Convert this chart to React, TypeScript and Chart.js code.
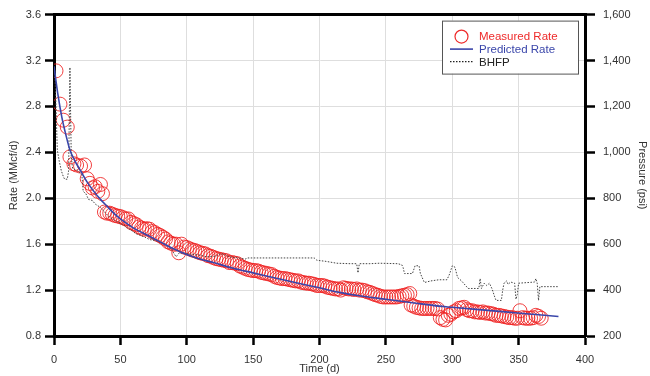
import React, { useEffect, useRef } from "react";
import { Chart, registerables } from "chart.js";

Chart.register(...registerables);

const FONT = "'Liberation Sans', Arial, Helvetica, sans-serif";

// Measured rate (MMcf/d) vs time (d)
const measuredDays = [
  1.5, 4.5, 7, 10, 12, 15, 17, 20, 23, 25, 27, 29, 31, 33, 35, 36.5, 38, 40, 42, 44, 46, 48, 50, 52, 54, 56, 58, 60,
  62, 64, 66, 68, 70, 72, 74, 76, 78, 80, 82, 84, 86, 88, 90, 92, 94, 96, 98, 100, 102, 104, 106, 108, 110, 112,
  114, 116, 118, 120, 122, 124, 126, 128, 130, 132, 134, 136, 138, 140, 142, 144, 146, 148, 150, 152, 154, 156,
  158, 160, 162, 164, 166, 168, 170, 172, 174, 176, 178, 180, 182, 184, 186, 188, 190, 192, 194, 196, 198, 200,
  202, 204, 206, 208, 210, 212, 214, 216, 218, 220, 222, 224, 226, 228, 230, 232, 234, 236, 238, 240, 242, 244,
  246, 248, 250, 252, 254, 256, 258, 260, 262, 264, 266, 268, 269, 271, 273, 275, 277, 279, 281, 283, 285, 287,
  289, 291, 293, 295, 297, 299, 301, 303, 305, 307, 309, 311, 313, 315, 317, 319, 321, 323, 325, 327, 329, 331,
  333, 335, 337, 339, 341, 343, 345, 347, 349, 351, 353, 355, 357, 359, 361, 363, 365, 367,
];
const measuredRate = [
  3.11, 2.82, 2.68, 2.62, 2.36, 2.3, 2.29, 2.28, 2.29, 2.17, 2.13, 2.09, 2.1, 2.06, 2.12, 2.04, 1.88, 1.87, 1.87,
  1.86, 1.85, 1.845, 1.84, 1.83, 1.82, 1.82, 1.79, 1.78, 1.77, 1.75, 1.74, 1.73, 1.735, 1.73, 1.71, 1.7, 1.685,
  1.675, 1.66, 1.645, 1.62, 1.61, 1.6, 1.6, 1.525, 1.6, 1.575, 1.57, 1.56, 1.55, 1.545, 1.535, 1.525, 1.52, 1.515,
  1.5, 1.495, 1.485, 1.475, 1.47, 1.465, 1.46, 1.455, 1.44, 1.44, 1.435, 1.43, 1.41, 1.4, 1.39, 1.38, 1.375, 1.37,
  1.37, 1.365, 1.355, 1.35, 1.345, 1.34, 1.335, 1.32, 1.31, 1.305, 1.3, 1.3, 1.295, 1.29, 1.285, 1.28, 1.28, 1.27,
  1.265, 1.26, 1.26, 1.255, 1.25, 1.24, 1.24, 1.24, 1.235, 1.225, 1.22, 1.215, 1.21, 1.21, 1.2, 1.22, 1.215, 1.21,
  1.21, 1.205, 1.21, 1.2, 1.2, 1.195, 1.185, 1.18, 1.17, 1.16, 1.155, 1.145, 1.14, 1.14, 1.14, 1.14, 1.14, 1.14,
  1.145, 1.15, 1.155, 1.16, 1.17, 1.07, 1.06, 1.05, 1.045, 1.04, 1.04, 1.04, 1.04, 1.04, 1.04, 1.035, 0.96, 0.945,
  0.94, 0.98, 0.99, 1.01, 1.02, 1.04, 1.045, 1.05, 1.03, 1.02, 1.02, 1.01, 1.01, 1.005, 1.01, 1.0, 1.0, 0.995, 0.99,
  0.98, 0.98, 0.975, 0.97, 0.965, 0.96, 0.96, 0.955, 0.955, 1.02, 0.96, 0.955, 0.955, 0.955, 0.96, 0.98, 0.97, 0.955,
];

// Predicted rate (MMcf/d)
const predictedDays = [
  0, 3, 6, 9, 12, 16, 20, 25, 30, 35, 40, 45, 50, 60, 70, 80, 90, 100, 110, 120, 135, 150, 165, 180, 200, 215, 230,
  250, 270, 290, 300, 320, 340, 360, 380,
];
const predictedRate = [
  3.15, 2.9, 2.7, 2.55, 2.42, 2.32, 2.24, 2.14, 2.06, 1.99, 1.93, 1.87, 1.82, 1.74, 1.68, 1.62, 1.56, 1.51, 1.47,
  1.44, 1.39, 1.35, 1.31, 1.27, 1.22, 1.18, 1.15, 1.12, 1.09, 1.06, 1.05, 1.03, 1.01, 0.99, 0.97,
];

// Bottom-hole flowing pressure (psi)
const bhfpDays = [
  0.5, 1.5, 2.5, 4, 5.5, 7, 8, 10, 11, 12, 13, 14, 16, 19, 21, 22, 24, 26, 29, 31, 35, 41, 47, 52, 57, 62, 68, 72,
  77, 82, 86, 89, 92, 94, 97, 102, 110, 115, 122, 125, 128, 132, 139, 144, 146, 170, 196, 198, 205, 213, 223, 228,
  229, 230, 238, 245, 259, 262, 263, 264, 270, 272, 275, 276, 279, 284, 290, 296, 298, 300, 302, 304, 307, 310, 312,
  320, 321, 322, 324, 326, 328, 330, 332, 333, 337, 338, 339, 341, 342, 344, 347, 348, 349, 350, 362, 363, 364, 365,
  366, 380,
];
const bhfpPsi = [
  1370, 1200, 1010, 960, 920, 895, 883, 883, 920, 1370, 980, 930, 925, 915, 900, 830, 820, 795, 790, 775, 760, 722,
  700, 685, 665, 645, 632, 620, 615, 604, 590, 572, 545, 560, 562, 557, 552, 545, 548, 558, 556, 545, 540, 535, 540,
  540, 540, 530, 525, 517, 515, 515, 475, 515, 515, 517, 515, 510, 498, 472, 472, 506, 506, 472, 433, 440, 445, 445,
  470, 506, 500, 455, 440, 420, 407, 407, 450, 407, 430, 420, 430, 405, 370, 355, 355, 400, 430, 440, 425, 435, 430,
  360, 380, 430, 435, 450, 430, 355, 415, 415,
];

const rateTicks = [0.8, 1.2, 1.6, 2.0, 2.4, 2.8, 3.2, 3.6];
const pressureTicks = [200, 400, 600, 800, 1000, 1200, 1400, 1600];
const timeTicks = [0, 50, 100, 150, 200, 250, 300, 350, 400];

const RED = "#ee2a2a";
const BLUE = "#3a46aa";
const DOT = "#444444";

const zip = (xs: number[], ys: number[]) => xs.map((x, i) => ({ x, y: ys[i] }));

const frameAndLegend = {
  id: "frameAndLegend",
  afterDraw(chart: any) {
    const { ctx, chartArea } = chart;
    ctx.save();
    // top frame line
    ctx.strokeStyle = "#000";
    ctx.lineWidth = 3;
    ctx.beginPath();
    ctx.moveTo(chartArea.left - 1, chartArea.top);
    ctx.lineTo(chartArea.right + 1, chartArea.top);
    ctx.stroke();

    // legend box
    const bx = chartArea.right - 143;
    const by = chartArea.top + 6;
    const bw = 136;
    const bh = 53;
    ctx.fillStyle = "#fff";
    ctx.fillRect(bx, by, bw, bh);
    ctx.strokeStyle = "#555";
    ctx.lineWidth = 1;
    ctx.strokeRect(bx + 0.5, by + 0.5, bw, bh);

    const ds = chart.data.datasets;
    const rows = [by + 16, by + 29.5, by + 42];
    const sx0 = bx + 8;
    const sx1 = bx + 31;
    const tx = bx + 37;
    ctx.font = "11.5px " + FONT;
    ctx.textBaseline = "middle";
    ctx.textAlign = "left";

    // Measured
    ctx.strokeStyle = RED;
    ctx.lineWidth = 1.2;
    ctx.beginPath();
    ctx.arc((sx0 + sx1) / 2, rows[0], 6.5, 0, Math.PI * 2);
    ctx.stroke();
    ctx.fillStyle = RED;
    ctx.fillText(ds[0].label, tx, rows[0]);

    // Predicted
    ctx.strokeStyle = BLUE;
    ctx.lineWidth = 1.6;
    ctx.beginPath();
    ctx.moveTo(sx0, rows[1] - 1);
    ctx.lineTo(sx1, rows[1] - 1);
    ctx.stroke();
    ctx.fillStyle = BLUE;
    ctx.fillText(ds[1].label, tx, rows[1]);

    // BHFP
    ctx.strokeStyle = "#222";
    ctx.lineWidth = 1.2;
    ctx.setLineDash([1.5, 1.5]);
    ctx.beginPath();
    ctx.moveTo(sx0, rows[2] - 1);
    ctx.lineTo(sx1, rows[2] - 1);
    ctx.stroke();
    ctx.setLineDash([]);
    ctx.fillStyle = "#222";
    ctx.fillText(ds[2].label, tx, rows[2]);
    ctx.restore();
  },
};

export default function App() {
  const ref = useRef<HTMLCanvasElement | null>(null);

  useEffect(() => {
    if (!ref.current) return;
    Chart.defaults.font.family = FONT;
    const tickFont = { family: FONT, size: 11 };
    const gridCommon = {
      color: "#dedede",
      lineWidth: 1,
      tickColor: "#000",
      tickWidth: 2.5,
      tickLength: 9,
    };
    const chart = new Chart(ref.current, {
      type: "scatter",
      data: {
        datasets: [
          {
            label: "Measured Rate",
            data: zip(measuredDays, measuredRate),
            yAxisID: "y",
            showLine: false,
            pointRadius: 7,
            pointHoverRadius: 7,
            pointBorderWidth: 1,
            pointBorderColor: "rgba(238,32,32,0.85)",
            pointBackgroundColor: "rgba(0,0,0,0)",
            borderColor: RED,
            backgroundColor: "rgba(0,0,0,0)",
            order: 3,
          },
          {
            label: "Predicted Rate",
            data: zip(predictedDays, predictedRate),
            yAxisID: "y",
            showLine: true,
            pointRadius: 0,
            borderColor: BLUE,
            borderWidth: 1.6,
            cubicInterpolationMode: "monotone",
            order: 1,
          },
          {
            label: "BHFP",
            data: zip(bhfpDays, bhfpPsi),
            yAxisID: "y2",
            showLine: true,
            pointRadius: 0,
            borderColor: DOT,
            borderWidth: 1,
            borderDash: [1.5, 1.5],
            order: 2,
          },
        ],
      },
      options: {
        animation: false,
        responsive: false,
        devicePixelRatio: 1,
        layout: { padding: { top: 11, left: 0, right: 0, bottom: 0 } },
        plugins: {
          legend: { display: false },
          tooltip: { enabled: false },
        },
        scales: {
          x: {
            type: "linear",
            position: "bottom",
            min: 0,
            max: 400,
            afterBuildTicks: (s: any) => {
              s.ticks = timeTicks.map((v) => ({ value: v }));
            },
            ticks: { color: "#333", font: tickFont, padding: 8, maxRotation: 0 },
            grid: gridCommon,
            border: { color: "#000", width: 3 },
            title: {
              display: true,
              text: "Time (d)",
              color: "#333",
              font: { family: FONT, size: 11 },
              padding: { top: 0, bottom: 0 },
            },
            afterFit: (s: any) => {
              s.height = 40;
            },
          },
          y: {
            type: "linear",
            position: "left",
            min: 0.8,
            max: 3.6,
            afterBuildTicks: (s: any) => {
              s.ticks = rateTicks.map((v) => ({ value: v }));
            },
            ticks: {
              color: "#333",
              font: tickFont,
              padding: 4,
              callback: (v: any) => Number(v).toFixed(1),
            },
            grid: gridCommon,
            border: { color: "#000", width: 3 },
            title: {
              display: true,
              text: "Rate (MMcf/d)",
              color: "#333",
              font: { family: FONT, size: 11 },
              padding: { top: 7, bottom: 0 },
            },
            afterFit: (s: any) => {
              s.width = 54;
            },
          },
          y2: {
            type: "linear",
            position: "right",
            min: 200,
            max: 1600,
            afterBuildTicks: (s: any) => {
              s.ticks = pressureTicks.map((v) => ({ value: v }));
            },
            ticks: {
              color: "#333",
              font: tickFont,
              padding: 8,
              callback: (v: any) => Number(v).toLocaleString("en-US"),
            },
            grid: { ...gridCommon, drawOnChartArea: false, tickLength: 10 },
            border: { color: "#000", width: 3 },
            title: {
              display: true,
              text: "Pressure (psi)",
              color: "#333",
              font: { family: FONT, size: 11 },
              padding: { top: 1.5, bottom: 0 },
            },
            afterFit: (s: any) => {
              s.width = 65;
            },
          },
        },
      } as any,
      plugins: [frameAndLegend],
    });
    return () => chart.destroy();
  }, []);

  return (
    <div style={{ position: "absolute", left: 0, top: 0, width: 650, height: 376, background: "#fff" }}>
      <canvas ref={ref} width={650} height={376} style={{ display: "block", width: 650, height: 376 }} />
    </div>
  );
}
